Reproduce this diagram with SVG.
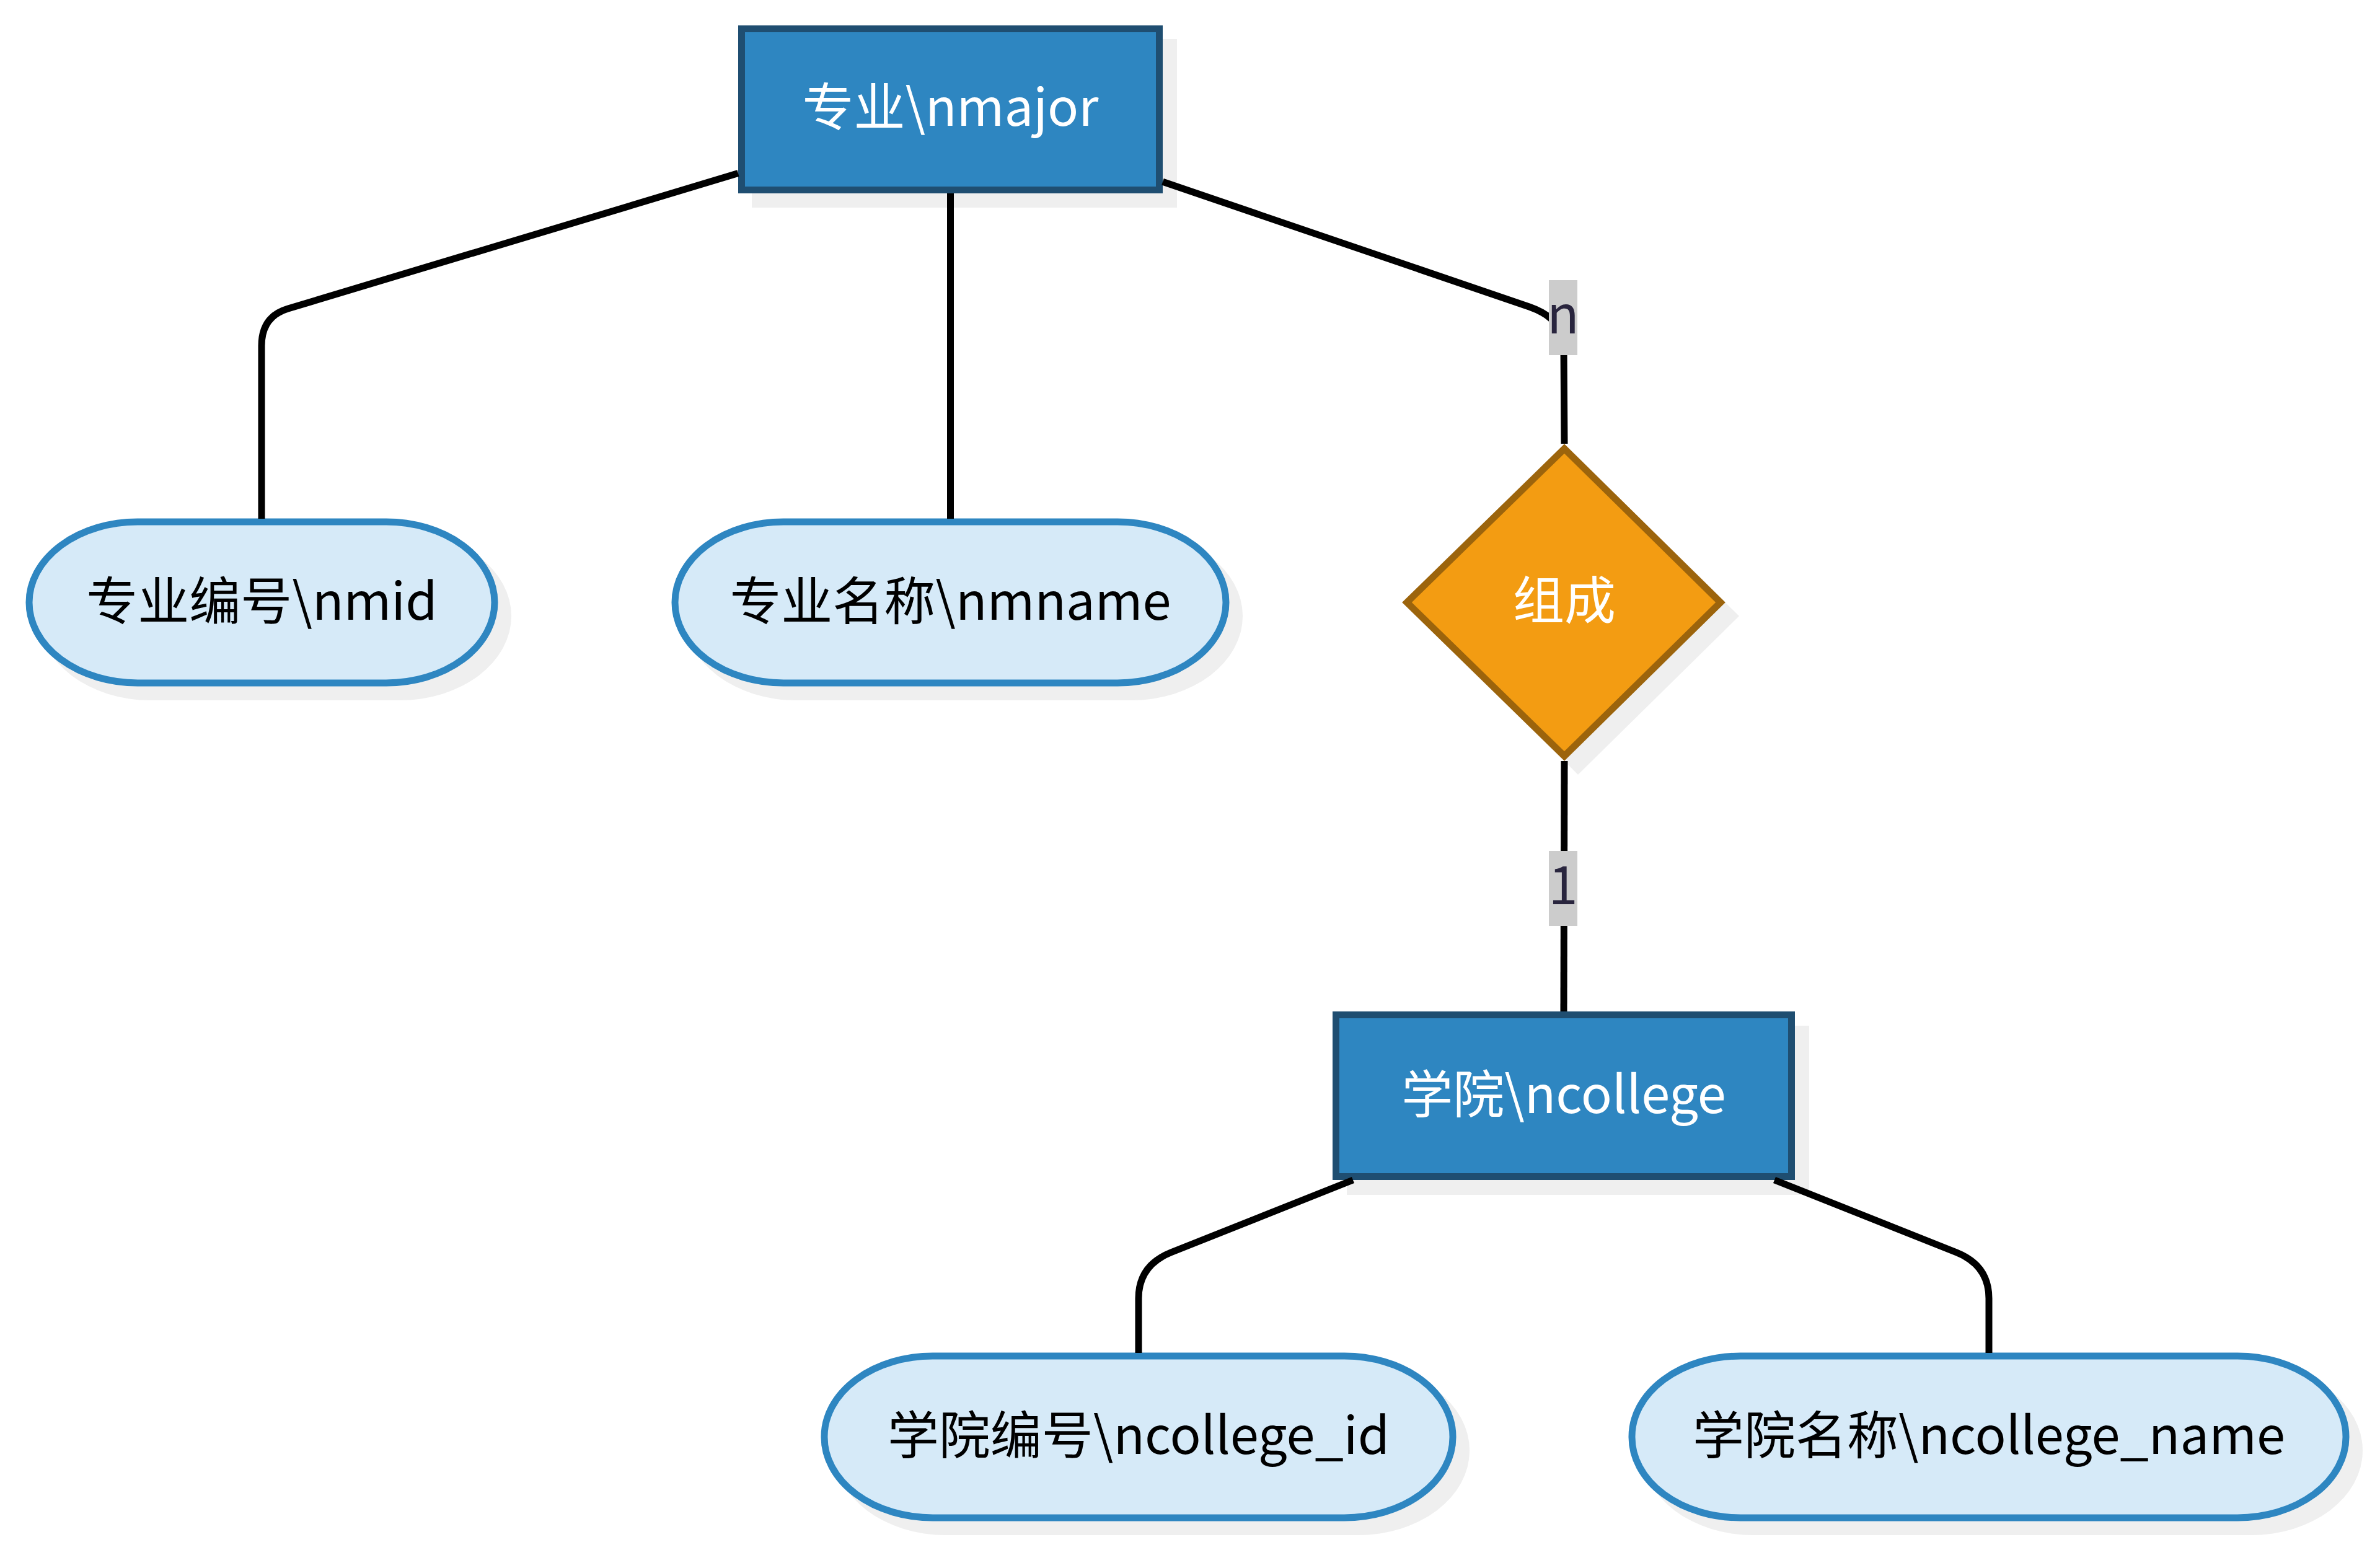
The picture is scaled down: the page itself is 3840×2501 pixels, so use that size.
<svg xmlns="http://www.w3.org/2000/svg" width="3840" height="2501" viewBox="0 0 3840 2501">
<style>
.bg{fill:#ffffff}
.shadow{fill:#efefef;stroke:none}
.entity{fill:#2e86c1;stroke:#1f4e71;stroke-width:11}
.attr{fill:#d6eaf8;stroke:#2e86c1;stroke-width:11}
.rel{fill:#f39c12;stroke:#9c640c;stroke-width:11;stroke-linejoin:miter}
.t{font-family:"Noto Sans CJK SC","Noto Sans",sans-serif;font-size:83px;text-anchor:middle}
.tw{fill:#ffffff}
.tb{fill:#000000}
.edge{fill:none;stroke:#000000;stroke-width:11}
.lblbg{fill:#cccccc}
.lbl{fill:#29253e;font-size:85px}
</style>
<rect class="bg" x="0" y="0" width="3840" height="2501"/>

<g id="major">
<rect class="shadow" x="1213" y="63" width="686" height="272"/>
<rect class="entity" x="1196.5" y="46.5" width="674" height="260"/>
<text class="t tw" x="1533.5" y="203">专业\nmajor</text>
</g>

<g id="major_id">
<rect class="shadow" x="63" y="858" width="762" height="272" rx="180" ry="136"/>
<rect class="attr" x="47" y="842" width="751" height="260" rx="175" ry="130"/>
<text class="t tb" x="422.5" y="1000">专业编号\nmid</text>
</g>

<g id="major_name">
<rect class="shadow" x="1105" y="858" width="900" height="272" rx="180" ry="136"/>
<rect class="attr" x="1089" y="842" width="889" height="260" rx="175" ry="130"/>
<text class="t tb" x="1533.5" y="1000">专业名称\nmname</text>
</g>

<g id="compose">
<polygon class="shadow" points="2546,738 2806,994 2546,1250 2292,994"/>
<polygon class="rel" points="2524,724 2776,972 2524,1220 2270,972"/>
<text class="t tw" x="2524" y="999">组成</text>
</g>

<g id="college">
<rect class="shadow" x="2173" y="1655" width="746" height="273"/>
<rect class="entity" x="2155.5" y="1637.5" width="735" height="261"/>
<text class="t tw" x="2523" y="1796">学院\ncollege</text>
</g>

<g id="college_id">
<rect class="shadow" x="1346" y="2204" width="1025" height="273" rx="180" ry="136"/>
<rect class="attr" x="1330" y="2188" width="1014" height="261" rx="175" ry="130"/>
<text class="t tb" x="1837" y="2346">学院编号\ncollege_id</text>
</g>

<g id="college_name">
<rect class="shadow" x="2649" y="2204" width="1163" height="273" rx="180" ry="136"/>
<rect class="attr" x="2633" y="2188" width="1152" height="261" rx="175" ry="130"/>
<text class="t tb" x="3209" y="2346">学院名称\ncollege_name</text>
</g>

<g id="connectors">
<path class="edge" d="M1191,279.6 L464,498.3 Q422,511 422,558 L422,837"/>
<path class="edge" d="M1533.5,312 L1533.5,837"/>
<path class="edge" d="M1876,293.3 L2468,495.2 Q2522,514 2523,560 L2524,716"/>
<path class="edge" d="M2524,1228 L2523,1632"/>
<path class="edge" d="M2183,1904 L1889,2021 Q1837,2042 1837,2095 L1837,2183"/>
<path class="edge" d="M2863,1904 L3157,2021 Q3209,2042 3209,2095 L3209,2183"/>
</g>

<g id="edge_labels">
<rect class="lblbg" x="2499" y="452" width="46" height="121"/>
<text class="t lbl" x="2522" y="538">n</text>
<rect class="lblbg" x="2499" y="1373" width="46" height="121"/>
<text class="t lbl" x="2522" y="1459">1</text>
</g>
</svg>
